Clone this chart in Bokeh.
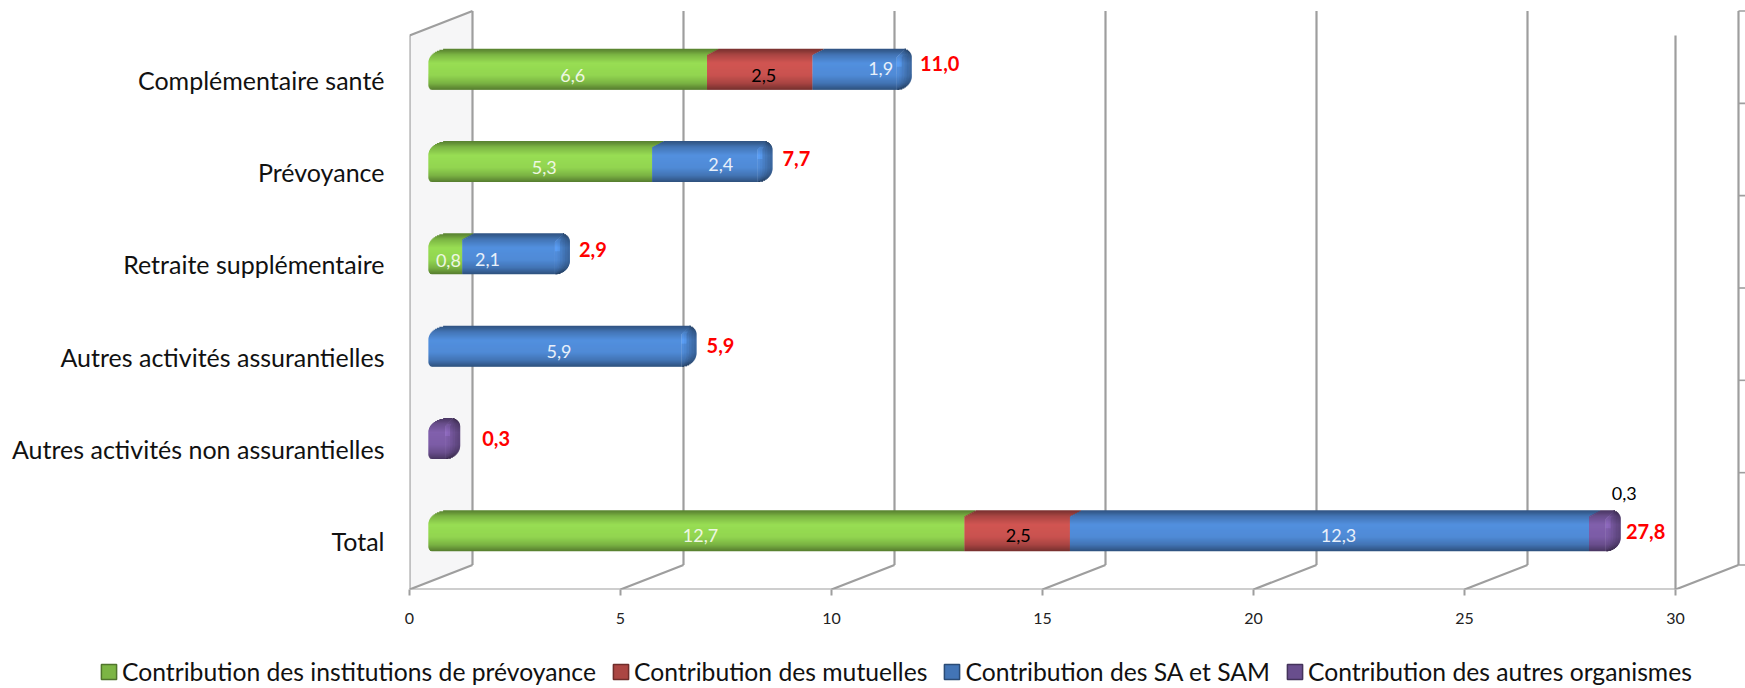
import math
from bokeh.plotting import figure
from bokeh.layouts import column
from bokeh.models import Range1d, FixedTicker, Legend, LegendItem, ColumnDataSource
from bokeh.core.properties import value
from bokeh.embed import file_html
from bokeh.resources import INLINE

# ---------- data ----------
CATEGORIES = ["Complémentaire santé", "Prévoyance", "Retraite supplémentaire",
              "Autres activités assurantielles", "Autres activités non assurantielles", "Total"]
INSTITUTIONS = [6.6, 5.3, 0.8, 0.0, 0.0, 12.7]
MUTUELLES = [2.5, 0.0, 0.0, 0.0, 0.0, 2.5]
SA_SAM = [1.9, 2.4, 2.1, 5.9, 0.0, 12.3]
AUTRES = [0.0, 0.0, 0.0, 0.0, 0.3, 0.3]
TOTALS = [11.0, 7.7, 2.9, 5.9, 0.3, 27.8]
SERIES_NAMES = ["Contribution des institutions de prévoyance", "Contribution des mutuelles",
                "Contribution des SA et SAM", "Contribution des autres organismes"]
X_TICKS = [0, 5, 10, 15, 20, 25, 30]

# ---------- style ----------
SERIES = [INSTITUTIONS, MUTUELLES, SA_SAM, AUTRES]
COLORS = ["#92d550", "#c9524f", "#4f8ad6", "#7c5ca6"]
LABEL_COLORS = ["#eef7e2", "#000000", "#e8f0fa", "#000000"]
FONT = "Lato"
GRID = "#9e9e9e"
W, H, LEG_H = 1745, 644, 44
PXX, PXY = 42.2, 92.3          # pixels per value unit / per category
X0, FLOOR = 409, 589           # page pixels of value 0 and of the front floor
DX, DY = 63, 24.5              # wall depth in pixels
BAR_DX, BAR_DY = 19, 12.5      # bar offset from the front plane
BAR_H = 41.0
N_BANDS = 41
CAT_LABEL_SHIFT = 2.0          # category labels sit slightly above the band centre, px

NUDGE = {(0, 0): (5, 6.5), (0, 1): (4, 6.5), (0, 2): (28, -0.5),
         (1, 0): (4, 6), (1, 2): (18, 3),
         (2, 0): (3, 6.5), (2, 2): (-19, 6),
         (3, 2): (6, 5),
         (5, 0): (4, 4.5), (5, 1): (1, 4.5), (5, 2): (9, 4.5), (5, 3): (29, -37.5)}
TOTAL_NUDGE = [(47, -5.5), (43, -3), (42, -4.5), (43, -1), (55, 0), (44, 0.5)]
SIDE_STRIPS = [1.0, .96, .9, .84, .78, .74]


def xpx(px):
    return px / PXX


def ypx(px):
    return px / PXY


def comma(v):
    return f"{v:.1f}".replace(".", ",")


def shade(hex_color, f):
    rgb = [int(hex_color[i:i + 2], 16) for i in (1, 3, 5)]
    return "#%02x%02x%02x" % tuple(max(0, min(255, round(c * f))) for c in rgb)


PROFILE = [(0, .60), (.07, .70), (.14, .84), (.35, 1.04), (.65, 1.0), (.84, .84), (.94, .68), (1, .58)]


def factor(t):
    for (a, fa), (b, fb) in zip(PROFILE, PROFILE[1:]):
        if t <= b:
            return fa + (fb - fa) * (t - a) / (b - a)
    return PROFILE[-1][1]


def left_inset(t):
    if t < .33:
        u = (.33 - t) / .33
        return 20 * (1 - math.sqrt(max(0, 1 - u * u)))
    if t > .88:
        u = (t - .88) / .12
        return 5 * (1 - math.sqrt(max(0, 1 - u * u)))
    return 0


def skew(t):
    return 12 * (1 - t / .15) if t < .15 else 0


def side_start(t):
    return 4 + (8 * (1 - t / .2) if t < .2 else 0)


def right_edge(t):
    if t < .2:
        u = (.2 - t) / .2
        return 19 - 9 * (1 - math.sqrt(max(0, 1 - u * u)))
    if t > .66:
        u = (t - .66) / .34
        return 19 - 17 * (1 - math.sqrt(max(0, 1 - u * u)))
    return 19


p = figure(width=W, height=H, output_backend="svg", toolbar_location=None,
           x_range=Range1d(0, (W - X0) / PXX),
           y_range=Range1d(5.5, -0.5 - 35 / PXY),
           min_border_left=X0, min_border_right=0, min_border_top=0,
           min_border_bottom=H - FLOOR, outline_line_color=None,
           background_fill_color="white", border_fill_color="white", frame_align=False)
p.grid.visible = False

ax = p.xaxis[0]
ax.ticker = FixedTicker(ticks=X_TICKS)
ax.axis_line_color = None
ax.major_tick_line_color = GRID
ax.major_tick_line_width = 2
ax.major_tick_in = 0
ax.major_tick_out = 6
ax.minor_tick_line_color = None
ax.major_label_text_font = FONT
ax.major_label_text_font_size = "16px"
ax.major_label_text_color = "#222222"
ax.major_label_standoff = 17

cat_ticks = [i - ypx(CAT_LABEL_SHIFT) for i in range(len(CATEGORIES))]
ay = p.yaxis[0]
ay.ticker = FixedTicker(ticks=cat_ticks)
ay.major_label_overrides = dict(zip(cat_ticks, CATEGORIES))
ay.axis_line_color = None
ay.major_tick_line_color = None
ay.minor_tick_line_color = None
ay.major_label_text_font = FONT
ay.major_label_text_font_size = "25px"
ay.major_label_text_color = "#111111"
ay.major_label_standoff = 19

# 3D walls
ddx, ddy = xpx(DX), ypx(DY)
p.patch([0, ddx, ddx, 0], [-0.5, -0.5 - ddy, 5.5 - ddy, 5.5],
        fill_color="#f6f6f7", line_color=None)

x0s, y0s, x1s, y1s = [], [], [], []
top_y = -0.5 - ddy
for t in X_TICKS:
    x0s += [t + ddx, t + ddx]
    y0s += [top_y, 5.5 - ddy]
    x1s += [t + ddx, t]
    y1s += [5.5 - ddy, 5.5]
x0s += [0, 0, 30, 0]
y0s += [5.5, -0.5, -0.5, -0.5]
x1s += [30, 0, 30, ddx]
y1s += [5.5, 5.5, 5.5, top_y]
p.segment(x0s, y0s, x1s, y1s, line_color=GRID, line_width=2.2)

rt_x = 30 + ddx
rx0, ry0, rx1 = [], [], []
for i in range(7):
    yy = -0.5 - ddy + i
    rx0.append(rt_x)
    ry0.append(yy)
    rx1.append(rt_x + xpx(8))
p.segment(rx0, ry0, rx1, ry0, line_color=GRID, line_width=1.6)

# bars, built as thin horizontal bands to give the rounded gradient
L, R, T, B, C = [], [], [], [], []
for i in range(len(CATEGORIES)):
    centre = i - ypx(BAR_DY)
    top = centre - ypx(BAR_H) / 2
    segs = []
    cum = 0.0
    for s, ser in enumerate(SERIES):
        if ser[i] > 0:
            segs.append((s, cum, cum + ser[i]))
            cum += ser[i]
    for b in range(N_BANDS):
        t = (b + .5) / N_BANDS
        ytop = top + ypx(BAR_H) * b / N_BANDS
        ybot = top + ypx(BAR_H) * (b + 1) / N_BANDS + (ypx(.7) if b < N_BANDS - 1 else 0)
        f = factor(t)
        for k, (s, a, e) in enumerate(segs):
            left = a + xpx(BAR_DX) + (xpx(left_inset(t)) if k == 0 else xpx(skew(t)))
            last = k == len(segs) - 1
            right = e + xpx(BAR_DX) + (xpx(side_start(t)) if last else xpx(skew(t)))
            edge = e + xpx(BAR_DX) + xpx(right_edge(t))
            right = min(right, edge)
            if right > left:
                L.append(left); R.append(right); T.append(ytop); B.append(ybot)
                C.append(shade(COLORS[s], f))
            if last:
                start = max(right, left)
                n = len(SIDE_STRIPS)
                for j, sf in enumerate(SIDE_STRIPS):
                    lo = start + (edge - start) * j / n
                    hi = start + (edge - start) * (j + 1) / n
                    boost = 1.1 if j < 2 and .15 < t < .45 else 1.0
                    L.append(lo); R.append(hi + (xpx(.5) if j < n - 1 else 0)); T.append(ytop); B.append(ybot)
                    C.append(shade(COLORS[s], f * sf * boost))
p.quad(left="l", right="r", top="t", bottom="b", fill_color="c", line_color=None,
       source=ColumnDataSource(dict(l=L, r=R, t=T, b=B, c=C)))

lx, ly, lt, lc = [], [], [], []
for (i, s), (dx, dy) in NUDGE.items():
    cum = sum(SERIES[j][i] for j in range(s))
    lx.append(cum + SERIES[s][i] / 2 + xpx(BAR_DX + dx))
    ly.append(i - ypx(BAR_DY) + ypx(dy))
    lt.append(comma(SERIES[s][i]))
    lc.append(LABEL_COLORS[s])
p.text(lx, ly, text=lt, text_color=lc, text_font=value(FONT), text_font_size="18px",
       text_align="center", text_baseline="middle")

tx = [TOTALS[i] + xpx(BAR_DX + TOTAL_NUDGE[i][0]) for i in range(len(TOTALS))]
ty = [i - ypx(BAR_DY) + ypx(TOTAL_NUDGE[i][1]) for i in range(len(TOTALS))]
p.text(tx, ty, text=[comma(v) for v in TOTALS], text_color="#ff0000", text_font=value(FONT),
       text_font_size="20px", text_font_style="bold", text_align="center", text_baseline="middle")

# legend strip, a second figure directly below the chart
lf = figure(width=W, height=LEG_H, output_backend="svg", toolbar_location=None,
            x_range=Range1d(0, 1), y_range=Range1d(0, 1), min_border=0,
            outline_line_color=None, x_axis_type=None, y_axis_type=None,
            background_fill_color="white", border_fill_color="white", frame_align=False)
lf.grid.visible = False
items = []
for name, col in zip(SERIES_NAMES, COLORS):
    r = lf.quad(left=[2.0], right=[3.0], top=[3.0], bottom=[2.0],
                fill_color=shade(col, .85), line_color=shade(col, .55), line_width=1.5)
    items.append(LegendItem(label=name, renderers=[r]))
legend = Legend(items=items, orientation="horizontal", location=(99, 2),
                background_fill_alpha=0, border_line_color=None, padding=0, margin=0,
                spacing=15, glyph_width=19, glyph_height=19, label_standoff=4,
                label_text_font=FONT, label_text_font_size="24.7px", label_text_color="#111111")
lf.add_layout(legend, "center")

open("out.html", "w").write(file_html(column(p, lf, spacing=0), INLINE))
